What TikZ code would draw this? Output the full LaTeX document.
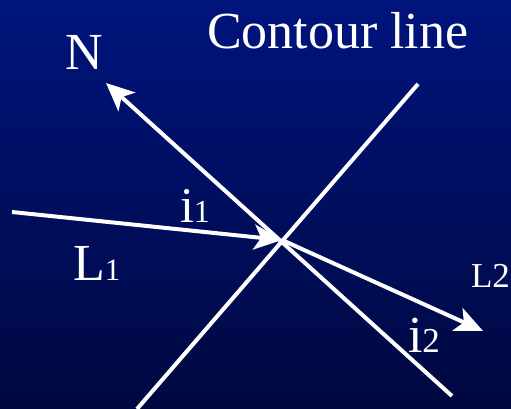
\documentclass[tikz,border=0pt]{standalone}
\usepackage{fontspec}
\setmainfont{Liberation Serif}
\usetikzlibrary{arrows.meta}
\definecolor{bgtop}{RGB}{0,20,125}
\definecolor{bgbot}{RGB}{0,8,64}
\newcommand{\fs}[1]{\fontsize{#1}{#1}\selectfont}
\begin{document}
\begin{tikzpicture}[x=1pt,y=-1pt,
  ray/.style={draw=white,line width=4pt},
  arr/.style={ray,-{Stealth[length=28pt,width=25pt,inset=7pt]}},
  lbl/.style={text=white,anchor=base west,inner sep=0pt,outer sep=0pt}]
  \shade[top color=bgtop,bottom color=bgbot] (0,0) rectangle (511,409);
  \useasboundingbox (0,0) rectangle (511,409);
  \coordinate (O) at (282,240);
  \coordinate (ct) at (418,84);
  \coordinate (cb) at (137,409);
  \coordinate (nt) at (106,83);
  \coordinate (nb) at (452,396);
  \coordinate (l1) at (12,212);
  \coordinate (l2) at (483,331);
  \begin{scope}
    \clip (0,0) rectangle (511,409);
    \draw[ray] (ct) -- (cb);
    \draw[arr] (nb) -- (nt);
    \draw[arr] (l1) -- (O);
    \draw[arr] (O) -- (l2);
  \end{scope}
  \node[lbl] (tcl) at (207,49) {\fs{52}Contour line};
  \node[lbl] (tn) at (65,70) {\fs{52}N};
  \node[lbl] (ti1) at (180,222) {\fs{50}i\fs{32}1};
  \node[lbl] (tl1) at (73,280) {\fs{52}L\fs{31}1};
  \node[lbl] (tl2) at (471,287) {\fs{35}L2};
  \node[lbl] (ti2) at (408,352) {\fs{52}i\fs{35}2};
\end{tikzpicture}
\end{document}
